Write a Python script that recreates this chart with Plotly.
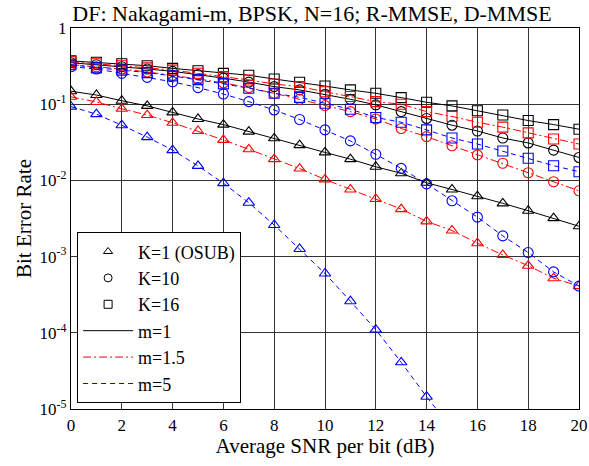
import plotly.graph_objects as go

snr = list(range(0, 21))

# K=1 (OSUB)
k1_m1 = [0.148, 0.132, 0.111, 0.095, 0.078, 0.064, 0.054, 0.0436, 0.0357, 0.029, 0.0233,
         0.019, 0.0151, 0.0124, 0.0093, 0.0076, 0.0062, 0.0050, 0.0040, 0.0032, 0.0025]
k1_m15 = [0.125, 0.107, 0.087, 0.072, 0.057, 0.0445, 0.034, 0.0256, 0.019, 0.0143, 0.0103,
          0.0076, 0.0057, 0.0042, 0.0029, 0.0022, 0.0015, 0.00105, 0.00076, 0.00052, 0.00041]
k1_m5_x = list(range(0, 16))
k1_m5 = [0.093, 0.074, 0.053, 0.037, 0.025, 0.0155, 0.0092, 0.0051, 0.0026, 0.00126, 0.0006,
         0.00026, 0.00011, 4.1e-5, 1.45e-5, 5.5e-6]

# K=10
k10_m1 = [0.35, 0.33, 0.31, 0.29, 0.27, 0.245, 0.22, 0.195, 0.17, 0.154, 0.135,
          0.116, 0.098, 0.08, 0.065, 0.053, 0.0445, 0.036, 0.031, 0.025, 0.020]
k10_m15 = [0.33, 0.31, 0.29, 0.265, 0.24, 0.215, 0.19, 0.165, 0.139, 0.116, 0.096,
           0.080, 0.064, 0.048, 0.0375, 0.0285, 0.0216, 0.0168, 0.0126, 0.0096, 0.0073]
k10_m5 = [0.31, 0.29, 0.254, 0.225, 0.197, 0.165, 0.136, 0.108, 0.084, 0.063, 0.046,
          0.033, 0.022, 0.0144, 0.009, 0.0054, 0.0033, 0.00187, 0.00113, 0.00063, 0.00041]

# K=16
k16_m1 = [0.37, 0.355, 0.34, 0.32, 0.295, 0.275, 0.254, 0.24, 0.214, 0.194, 0.173,
          0.154, 0.139, 0.122, 0.106, 0.095, 0.082, 0.072, 0.061, 0.054, 0.047]
k16_m15 = [0.36, 0.34, 0.32, 0.30, 0.28, 0.255, 0.23, 0.208, 0.184, 0.17, 0.146,
           0.126, 0.108, 0.10, 0.08, 0.069, 0.058, 0.050, 0.042, 0.035, 0.030]
k16_m5 = [0.33, 0.30, 0.28, 0.26, 0.235, 0.21, 0.185, 0.162, 0.139, 0.123, 0.103,
          0.086, 0.067, 0.058, 0.046, 0.036, 0.030, 0.0243, 0.0195, 0.0156, 0.013]

y_tickvals = [1, 0.1, 0.01, 0.001, 0.0001, 0.00001]
y_ticktext = ["1", "10<sup>-1</sup>", "10<sup>-2</sup>", "10<sup>-3</sup>",
              "10<sup>-4</sup>", "10<sup>-5</sup>"]
x_tickvals = list(range(0, 21, 2))

FONT = "Liberation Serif"
colors = {"m1": "black", "m15": "#ff0000", "m5": "#0000ff"}
dashes = {"m1": "solid", "m15": "8px,3px,2px,3px", "m5": "5px,4px"}
symbols = {"k1": "triangle-up-open", "k10": "circle-open", "k16": "square-open"}

series = [
    ("k1", "m1", snr, k1_m1), ("k1", "m15", snr, k1_m15), ("k1", "m5", k1_m5_x, k1_m5),
    ("k10", "m1", snr, k10_m1), ("k10", "m15", snr, k10_m15), ("k10", "m5", snr, k10_m5),
    ("k16", "m1", snr, k16_m1), ("k16", "m15", snr, k16_m15), ("k16", "m5", snr, k16_m5),
]

fig = go.Figure()
for k, m, xs, ys in series:
    fig.add_trace(go.Scatter(
        x=xs, y=ys, mode="lines+markers", showlegend=False,
        line=dict(color=colors[m], dash=dashes[m], width=1),
        marker=dict(symbol=symbols[k], size=10, color=colors[m],
                    line=dict(color=colors[m], width=1.1)),
    ))

legend_markers = [("K=1 (OSUB)", "k1"), ("K=10", "k10"), ("K=16", "k16")]
for name, k in legend_markers:
    fig.add_trace(go.Scatter(x=[None], y=[None], mode="markers", name=name,
                             marker=dict(symbol=symbols[k], size=8, color="black",
                                         line=dict(color="black", width=1))))
legend_lines = [("m=1", "m1"), ("m=1.5", "m15"), ("m=5", "m5")]
for name, m in legend_lines:
    fig.add_trace(go.Scatter(x=[None], y=[None], mode="lines", name=name,
                             line=dict(color=colors[m], dash=dashes[m], width=1)))

fig.update_layout(
    width=589, height=466,
    margin=dict(l=71, r=10, t=28, b=57),
    paper_bgcolor="white", plot_bgcolor="white",
    font=dict(family=FONT, size=16, color="black"),
    title=dict(text="DF: Nakagami-m, BPSK, N=16; R-MMSE, D-MMSE",
               x=312 / 589, xanchor="center", y=1 - 6 / 466, yanchor="top",
               font=dict(family=FONT, size=22)),
    legend=dict(x=0.012, y=0.015, xanchor="left", yanchor="bottom",
                bordercolor="black", borderwidth=1, bgcolor="white",
                font=dict(family=FONT, size=18), tracegroupgap=0,
                itemwidth=50),
)
fig.update_xaxes(range=[0, 20], tickvals=x_tickvals, showgrid=True, automargin=False,
                 gridcolor="#333333", gridwidth=1.2, zeroline=False,
                 showline=True, linecolor="black", linewidth=1.2, mirror=True,
                 ticks="", tickfont=dict(family=FONT, size=17),
                 title=dict(text="Average SNR per bit (dB)", font=dict(family=FONT, size=21), standoff=2))
fig.update_yaxes(type="log", range=[-5, 0], tickvals=y_tickvals, ticktext=y_ticktext,
                 showgrid=True, gridcolor="#333333", gridwidth=1.2, zeroline=False, automargin=False,
                 showline=True, linecolor="black", linewidth=1.2, mirror=True,
                 ticks="", tickfont=dict(family=FONT, size=17),
                 title=dict(text="Bit Error Rate", font=dict(family=FONT, size=21), standoff=2))

fig.write_html("out.html", post_script="document.body.style.margin='0';",
               config={"displayModeBar": False})
